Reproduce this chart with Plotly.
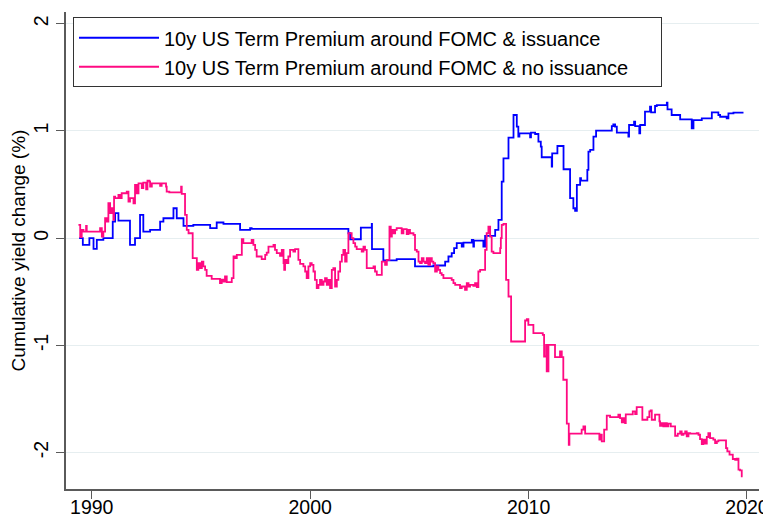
import plotly.graph_objects as go

# ---- data ----
issuance_years = [1989.42, 1989.59, 1989.89, 1990.08, 1990.23, 1990.53, 1990.96, 1991.07, 1991.22, 1991.75,
                  1991.98, 1992.21, 1992.36, 1992.67, 1993.13, 1993.28, 1993.74, 1993.89, 1994.20, 1994.65,
                  1995.42, 1995.72, 1996.03, 1996.79, 1997.25, 1997.32, 2001.75, 2001.83, 2002.32, 2002.82,
                  2002.83, 2003.35, 2003.96, 2004.80, 2005.64, 2006.18, 2006.33, 2006.48, 2006.59, 2006.71,
                  2006.94, 2007.02, 2007.40, 2007.47, 2007.50, 2007.93, 2008.01, 2008.47, 2008.62, 2008.77,
                  2008.85, 2009.08, 2009.31, 2009.46, 2009.53, 2009.58, 2010.07, 2010.11, 2010.30, 2010.45,
                  2010.56, 2010.60, 2011.06, 2011.08, 2011.32, 2011.60, 2011.90, 2012.05, 2012.13, 2012.21,
                  2012.36, 2012.40, 2012.69, 2012.74, 2012.82, 2012.97, 2013.09, 2013.81, 2013.88, 2013.96,
                  2014.04, 2014.57, 2014.60, 2014.83, 2014.88, 2015.07, 2015.11, 2015.33, 2015.56, 2015.61,
                  2015.79, 2015.87, 2016.33, 2016.36, 2016.55, 2016.94, 2017.47, 2017.55, 2017.93, 2018.39,
                  2018.69, 2018.77, 2019.07, 2019.15, 2019.38, 2019.84]
issuance_vals = [0.0, -0.062, 0.0, -0.10, -0.016, 0.0, 0.155, 0.233, 0.164, -0.062,
                 0.0, 0.217, 0.062, 0.077, 0.155, 0.186, 0.279, 0.186, 0.115, 0.124,
                 0.093, 0.146, 0.133, 0.077, 0.093, 0.087, 0.046, -0.010, 0.099, 0.133,
                 -0.103, -0.208, -0.196, -0.264, -0.255, -0.218, -0.171, -0.140, -0.093, -0.047,
                 -0.078, -0.041, -0.016, -0.078, -0.022, -0.078, 0.021, 0.077, 0.171, 0.528,
                 0.745, 0.938, 1.149, 1.040, 0.947, 0.978, 0.941, 0.985, 0.972, 0.901,
                 0.854, 0.755, 0.668, 0.792, 0.860, 0.643, 0.373, 0.279, 0.255, 0.497,
                 0.559, 0.537, 0.637, 0.808, 0.823, 0.947, 1.003, 1.046, 1.062, 1.040,
                 0.984, 0.947, 1.056, 1.087, 1.046, 0.978, 1.056, 1.180, 1.227, 1.174,
                 1.233, 1.242, 1.264, 1.202, 1.149, 1.109, 1.025, 1.102, 1.118, 1.174,
                 1.149, 1.133, 1.118, 1.164, 1.171, 1.171]

no_issuance_years = [1989.39, 1989.47, 1989.54, 1989.62, 1989.74, 1989.77, 1990.38, 1990.46, 1990.53, 1990.61,
                     1990.69, 1990.76, 1990.84, 1990.92, 1990.99, 1991.02, 1991.07, 1991.22, 1991.30, 1991.37,
                     1991.60, 1991.68, 1991.75, 1991.91, 1991.98, 1992.06, 1992.14, 1992.29, 1992.36, 1992.49,
                     1992.55, 1992.64, 1992.67, 1992.75, 1993.13, 1993.20, 1993.40, 1993.43, 1993.55, 1994.09,
                     1994.12, 1994.27, 1994.35, 1994.43, 1994.62, 1994.81, 1994.88, 1994.96, 1995.04, 1995.11,
                     1995.19, 1995.26, 1995.49, 1995.87, 1995.95, 1996.03, 1996.10, 1996.18, 1996.41, 1996.49,
                     1996.56, 1996.64, 1996.87, 1996.94, 1997.32, 1997.40, 1997.48, 1997.55, 1997.78, 1997.94,
                     1998.01, 1998.09, 1998.32, 1998.39, 1998.47, 1998.62, 1998.70, 1998.78, 1998.81, 1998.85,
                     1998.93, 1999.00, 1999.08, 1999.23, 1999.31, 1999.46, 1999.54, 1999.69, 1999.77, 1999.84,
                     1999.92, 2000.00, 2000.07, 2000.15, 2000.22, 2000.30, 2000.38, 2000.45, 2000.53, 2000.61,
                     2000.68, 2000.76, 2000.84, 2000.91, 2000.99, 2001.06, 2001.14, 2001.22, 2001.29, 2001.37,
                     2001.45, 2001.52, 2001.60, 2001.67, 2001.75, 2001.90, 2001.98, 2002.06, 2002.13, 2002.36,
                     2002.44, 2002.51, 2002.59, 2002.90, 2002.97, 2003.05, 2003.28, 2003.43, 2003.51, 2003.63,
                     2003.69, 2003.74, 2003.81, 2003.89, 2003.96, 2004.19, 2004.27, 2004.42, 2004.50, 2004.57,
                     2004.73, 2004.80, 2004.88, 2004.96, 2005.03, 2005.11, 2005.19, 2005.26, 2005.34, 2005.41,
                     2005.49, 2005.57, 2005.64, 2005.72, 2005.80, 2005.87, 2005.95, 2006.02, 2006.10, 2006.48,
                     2006.56, 2006.64, 2006.86, 2006.94, 2007.09, 2007.17, 2007.25, 2007.32, 2007.47, 2007.55,
                     2007.63, 2007.70, 2007.78, 2008.01, 2008.08, 2008.16, 2008.24, 2008.31, 2008.39, 2008.70,
                     2008.73, 2008.77, 2008.85, 2008.97, 2009.08, 2009.20, 2009.84, 2009.92, 2009.99, 2010.22,
                     2010.65, 2010.71, 2010.80, 2010.83, 2010.91, 2011.21, 2011.44, 2011.52, 2011.59, 2011.75,
                     2011.84, 2011.87, 2012.43, 2012.51, 2012.59, 2013.24, 2013.27, 2013.35, 2013.46, 2013.58,
                     2013.73, 2014.11, 2014.19, 2014.27, 2014.34, 2014.42, 2014.45, 2014.77, 2014.88, 2014.95,
                     2015.21, 2015.44, 2015.53, 2015.59, 2015.64, 2015.79, 2015.99, 2016.02, 2016.10, 2016.17,
                     2016.25, 2016.33, 2016.40, 2016.51, 2016.71, 2016.83, 2016.94, 2017.01, 2017.09, 2017.17,
                     2017.24, 2017.32, 2017.40, 2017.70, 2017.78, 2017.85, 2017.93, 2018.00, 2018.08, 2018.16,
                     2018.23, 2018.31, 2018.46, 2018.54, 2018.62, 2018.69, 2019.04, 2019.10, 2019.20, 2019.35,
                     2019.46, 2019.53, 2019.61, 2019.68, 2019.76, 2019.80]
no_issuance_vals = [0.124, 0.009, 0.077, 0.062, 0.115, 0.062, 0.093, 0.015, 0.062, 0.186,
                    0.155, 0.326, 0.233, 0.279, 0.171, 0.388, 0.373, 0.404, 0.373, 0.419,
                    0.435, 0.341, 0.373, 0.326, 0.497, 0.419, 0.512, 0.466, 0.519, 0.456,
                    0.537, 0.528, 0.481, 0.512, 0.487, 0.512, 0.481, 0.435, 0.428, 0.481,
                    0.413, 0.217, 0.077, 0.046, -0.187, -0.295, -0.233, -0.280, -0.218, -0.264,
                    -0.295, -0.351, -0.379, -0.420, -0.388, -0.404, -0.357, -0.410, -0.373, -0.171,
                    -0.187, -0.156, -0.010, -0.047, -0.016, -0.062, -0.109, -0.171, -0.196, -0.156,
                    -0.134, -0.078, -0.062, -0.109, -0.140, -0.165, -0.109, -0.233, -0.295, -0.202,
                    -0.233, -0.171, -0.109, -0.125, -0.103, -0.202, -0.240, -0.264, -0.311, -0.373,
                    -0.264, -0.233, -0.249, -0.311, -0.389, -0.466, -0.435, -0.389, -0.435, -0.404,
                    -0.373, -0.435, -0.389, -0.466, -0.295, -0.280, -0.451, -0.389, -0.311, -0.218,
                    -0.156, -0.109, -0.218, -0.140, 0.046, 0.000, -0.047, -0.078, -0.103, -0.125,
                    -0.078, -0.109, -0.280, -0.264, -0.311, -0.342, -0.218, -0.249, -0.202, 0.108,
                    0.015, 0.077, 0.046, 0.077, 0.093, 0.046, 0.084, 0.037, 0.077, 0.046,
                    0.031, -0.109, -0.125, -0.218, -0.233, -0.187, -0.218, -0.233, -0.187, -0.249,
                    -0.187, -0.218, -0.233, -0.311, -0.264, -0.295, -0.326, -0.342, -0.373, -0.389,
                    -0.420, -0.435, -0.466, -0.451, -0.482, -0.420, -0.451, -0.435, -0.445, -0.420,
                    -0.457, -0.311, -0.295, -0.109, 0.046, 0.108, 0.015, -0.125, -0.140, -0.093,
                    0.000, 0.124, 0.133, -0.389, -0.544, -0.964, -0.768, -0.756, -0.808, -0.886,
                    -0.902, -1.104, -0.995, -1.243, -0.995, -1.110, -1.057, -1.110, -1.321, -1.731,
                    -1.927, -1.824, -1.787, -1.756, -1.824, -1.880, -1.834, -1.896, -1.787, -1.656,
                    -1.669, -1.647, -1.678, -1.719, -1.678, -1.725, -1.644, -1.616, -1.641, -1.576,
                    -1.694, -1.669, -1.616, -1.607, -1.694, -1.647, -1.709, -1.750, -1.725, -1.756,
                    -1.725, -1.756, -1.731, -1.756, -1.843, -1.824, -1.802, -1.834, -1.824, -1.802,
                    -1.849, -1.818, -1.824, -1.818, -1.834, -1.874, -1.921, -1.880, -1.917, -1.855,
                    -1.818, -1.865, -1.880, -1.911, -1.896, -1.886, -1.958, -1.989, -2.020, -2.060,
                    -2.067, -2.057, -2.160, -2.166, -2.222, -2.222]

x_ticks = [1990, 2000, 2010, 2020]
x_tick_labels = ["1990", "2000", "2010", "2020"]
y_ticks = [-2, -1, 0, 1, 2]
y_tick_labels = ["-2", "-1", "0", "1", "2"]

series_names = ["10y US Term Premium around FOMC & issuance",
                "10y US Term Premium around FOMC & no issuance"]

FONT = "Liberation Sans, Arial, sans-serif"
AXIS_COLOR = "#5a5a5a"

fig = go.Figure()
fig.add_trace(go.Scatter(x=issuance_years, y=issuance_vals, mode="lines",
                         line=dict(color="#0000FF", width=1.8, shape="hv"),
                         name=series_names[0]))
fig.add_trace(go.Scatter(x=no_issuance_years, y=no_issuance_vals, mode="lines",
                         line=dict(color="#FF0A82", width=1.8, shape="hv"),
                         name=series_names[1]))

# The page body has an 8px default margin, so the figure is sized to fill
# the remaining 763x510 of the 771x518 window.
fig.update_layout(
    width=763, height=510,
    margin=dict(l=58, r=12, t=4, b=29, autoexpand=False),
    paper_bgcolor="white", plot_bgcolor="white",
    font=dict(family=FONT, size=19, color="black"),
    showlegend=True,
    legend=dict(x=0.0101, y=0.989, xanchor="left", yanchor="top",
                orientation="h", itemwidth=80,
                entrywidth=492, entrywidthmode="pixels",
                bgcolor="white", bordercolor="#333333", borderwidth=1,
                font=dict(size=20, family=FONT, color="black")),
    xaxis=dict(range=[1988.82, 2020.55], tickvals=x_ticks, ticktext=x_tick_labels,
               automargin=False,
               showgrid=False, zeroline=False, showline=True, linecolor=AXIS_COLOR, linewidth=1.5,
               ticks="outside", ticklen=8, tickwidth=1.2, tickcolor=AXIS_COLOR,
               ticklabelstandoff=-8,
               tickfont=dict(size=19.5, family=FONT, color="black")),
    yaxis=dict(range=[-2.34, 2.11], tickvals=y_ticks, ticktext=y_tick_labels,
               automargin=False,
               showgrid=True, gridcolor="#E6EEF0", gridwidth=1, zeroline=False,
               showline=True, linecolor=AXIS_COLOR, linewidth=1.5,
               ticks="outside", ticklen=8, tickwidth=1.2, tickcolor=AXIS_COLOR,
               tickangle=-90,
               tickfont=dict(size=19.5, family=FONT, color="black"),
               title=dict(text="Cumulative yield change (%)", font=dict(size=19, family=FONT, color="black"),
                          standoff=1)),
)

fig.write_html("out.html")
